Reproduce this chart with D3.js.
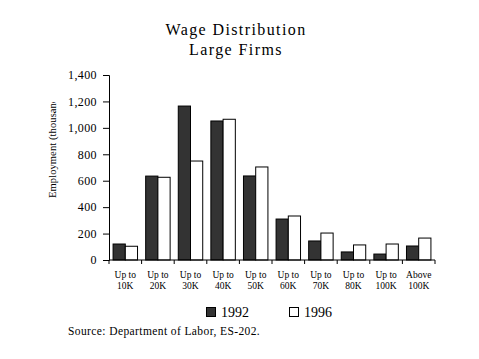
<!DOCTYPE html>
<html><head><meta charset="utf-8">
<script src="https://cdn.jsdelivr.net/npm/d3@7"></script>
<style>body{margin:0;background:#fff}svg{display:block}</style>
</head><body><svg id="c" width="479" height="359"></svg>
<script>
const categories = [["Up to","10K"],["Up to","20K"],["Up to","30K"],["Up to","40K"],["Up to","50K"],["Up to","60K"],["Up to","70K"],["Up to","80K"],["Up to","100K"],["Above","100K"]];
const series1992 = [121, 635, 1165, 1052, 636, 310, 144, 61, 45, 106];
const series1996 = [104, 626, 749, 1065, 704, 333, 204, 114, 121, 166];
const seriesNames = ["1992", "1996"];
const yTicks = [0, 200, 400, 600, 800, 1000, 1200, 1400];

(function () {
const FF = '"Liberation Serif", "Times New Roman", serif';
const svg = d3.select("#c");
const pL = 109, pR = 435, pT = 75, pB = 260;
const x = d3.scaleBand().domain(d3.range(categories.length)).range([pL, pR]).paddingInner(0.25).paddingOuter(0.125);
const xs = d3.scaleBand().domain(d3.range(categories.length)).range([pL, pR]);
const y = d3.scaleLinear().domain([0, 1400]).range([pB, pT]);
const xi = d3.scaleBand().domain([0, 1]).range([0, x.bandwidth()]);
const colors = ["#333333", "#ffffff"];

function txt(sel) { return sel.append("text").style("font-family", FF).attr("fill", "#000"); }

// title
txt(svg).attr("x", 236).attr("y", 35).attr("text-anchor", "middle").style("font-size", "16px").style("letter-spacing", "1.4px").text("Wage Distribution");
txt(svg).attr("x", 236).attr("y", 55).attr("text-anchor", "middle").style("font-size", "16px").style("letter-spacing", "1.4px").text("Large Firms");

// bars
const data = [series1992, series1996];
data.forEach((s, si) => {
  svg.append("g").selectAll("rect").data(s).join("rect")
    .attr("x", (d, i) => x(i) + xi(si))
    .attr("y", d => y(d))
    .attr("width", xi.bandwidth())
    .attr("height", d => y(0) - y(d))
    .attr("fill", colors[si]).attr("stroke", "#000").attr("stroke-width", 1);
});

// y axis
const ya = svg.append("g").attr("transform", `translate(${pL},0)`)
  .call(d3.axisLeft(y).tickValues(yTicks).tickFormat(d3.format(",")).tickSize(6).tickPadding(6));
ya.select(".domain").attr("stroke", "#000");
ya.selectAll("text").style("font-size", "12px").style("font-family", FF).style("letter-spacing", "0.4px");

// x axis
const xa = svg.append("g").attr("transform", `translate(0,${pB})`);
xa.append("line").attr("x1", pL).attr("x2", pR).attr("y1", 0).attr("y2", 0).attr("stroke", "#000");
xa.selectAll("line.t").data(d3.range(categories.length + 1)).join("line").attr("class", "t")
  .attr("x1", i => i < categories.length ? xs(i) : pR).attr("x2", i => i < categories.length ? xs(i) : pR)
  .attr("y1", 0).attr("y2", 4).attr("stroke", "#000");
categories.forEach((c, i) => {
  const cx = xs(i) + xs.bandwidth() / 2;
  c.forEach((line, li) => {
    txt(xa).attr("x", cx).attr("y", 18 + li * 11).attr("text-anchor", "middle").style("font-size", "9.5px").text(line);
  });
});

// y label (clipped as in the original)
svg.append("clipPath").attr("id", "yl").append("rect").attr("x", 30).attr("y", 102).attr("width", 40).attr("height", 120);
const gl = svg.append("g").attr("clip-path", "url(#yl)");
txt(gl).attr("transform", "translate(56,198) rotate(-90)")
  .attr("text-anchor", "start").style("font-size", "10.5px").style("letter-spacing", "0.1px").text("Employment (thousands)");

// legend
const leg = [[206, 221], [289, 304]];
seriesNames.forEach((n, i) => {
  svg.append("rect").attr("x", leg[i][0] + 0.5).attr("y", 307.5).attr("width", 9).attr("height", 9).attr("fill", colors[i]).attr("stroke", "#000");
  txt(svg).attr("x", leg[i][1]).attr("y", 317).style("font-size", "14px").text(n);
});

// source
txt(svg).attr("x", 68).attr("y", 335).style("font-size", "11.5px").style("letter-spacing", "0.4px").text("Source:  Department of Labor, ES-202.");
})();
</script></body></html>
